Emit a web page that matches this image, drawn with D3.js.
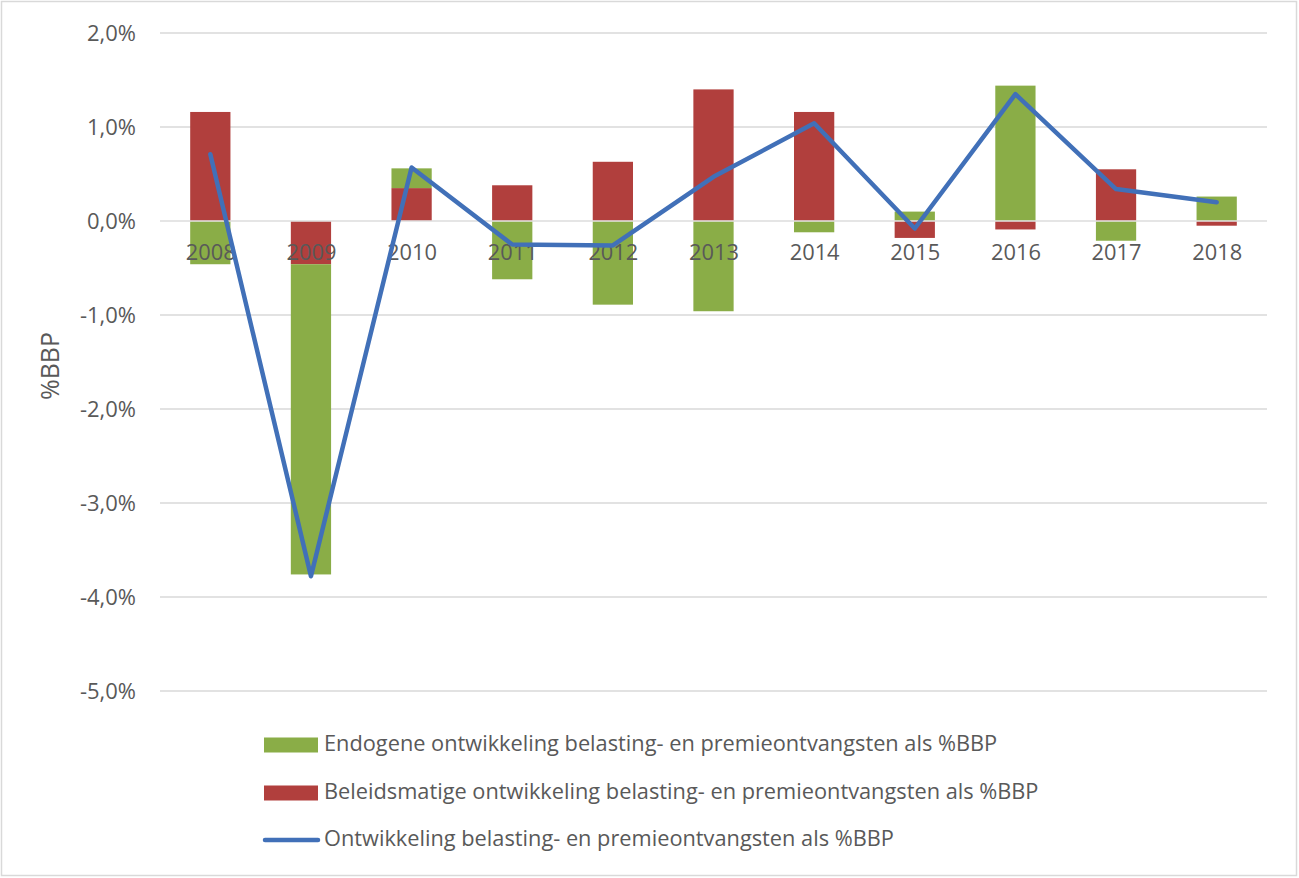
<!DOCTYPE html>
<html><head><meta charset="utf-8">
<script src="https://cdn.jsdelivr.net/npm/d3@7"></script>
<style>body{margin:0;background:#fff}svg{display:block}text{font-family:"Open Sans",Lato,sans-serif;fill:#595959}</style>
</head><body><svg id="c" width="1299" height="878"></svg>
<script>
const years = ["2008","2009","2010","2011","2012","2013","2014","2015","2016","2017","2018"];
const endogeen = [-0.46,-3.30,0.21,-0.62,-0.89,-0.96,-0.12,0.10,1.44,-0.21,0.26];
const beleid = [1.16,-0.46,0.35,0.38,0.63,1.40,1.16,-0.18,-0.09,0.55,-0.05];
const totaal = [0.71,-3.78,0.57,-0.25,-0.26,0.47,1.04,-0.08,1.35,0.34,0.20];
const yTicks = [2,1,0,-1,-2,-3,-4,-5];
const seriesNames = ["Endogene ontwikkeling belasting- en premieontvangsten als %BBP","Beleidsmatige ontwikkeling belasting- en premieontvangsten als %BBP","Ontwikkeling belasting- en premieontvangsten als %BBP"];
const GREEN="#8aad47", RED="#b13f3d", BLUE="#4170b8";
const FONT='"Open Sans",Lato,sans-serif';

const svg=d3.select("#c");
function fitSize(str,target){
  const t=svg.append("text").style("font-family",FONT).style("font-size","20px").text(str);
  const w=t.node().getComputedTextLength(); t.remove();
  return 20*target/w;
}
const legSize=fitSize(seriesNames[1],715);
const tickSize=fitSize("2,0%",49);
const catSize=fitSize("2008",50);
const titleSize=fitSize("%BBP",68);

svg.append("rect").attr("x",1.5).attr("y",1.5).attr("width",1295).attr("height",874).attr("fill","#fff").attr("stroke","#d9d9d9").attr("stroke-width",1.5);
const L=160,R=1267;
const x=d3.scaleBand().domain(years).range([L,R]).paddingInner(0.6).paddingOuter(0.3);
const xc=d3.scalePoint().domain(years).range([L,R]).padding(0.5);
const y=d3.scaleLinear().domain([-5,2]).range([691,33]);

// grid
svg.append("g").selectAll("line").data(yTicks).join("line")
 .attr("x1",L).attr("x2",R).attr("y1",d=>y(d)).attr("y2",d=>y(d)).attr("stroke","#d9d9d9").attr("stroke-width",1.3);
const fmt=d=>d3.format(".1f")(d).replace(".",",").replace("−","-")+"%";
const ya=d3.axisLeft(y).tickValues(yTicks).tickFormat(fmt).tickSize(0).tickPadding(24);
svg.append("g").attr("transform",`translate(${L},0)`).call(ya).call(g=>g.select(".domain").remove())
 .selectAll("text").style("font-size",tickSize+"px").style("font-family",FONT).attr("fill","#595959");

// stacked bars (beleid first, then endogeen)
years.forEach((yr,i)=>{
  const vals=[{v:beleid[i],c:RED},{v:endogeen[i],c:GREEN}];
  let pos=0,neg=0;
  vals.forEach(o=>{
    let y0,y1;
    if(o.v>=0){y0=pos;y1=pos+o.v;pos=y1;}else{y0=neg;y1=neg+o.v;neg=y1;}
    svg.append("rect").attr("x",x(yr)).attr("width",x.bandwidth())
      .attr("y",y(Math.max(y0,y1))).attr("height",Math.abs(y(y0)-y(y1))).attr("fill",o.c);
  });
});
// zero line
svg.append("line").attr("x1",L).attr("x2",R).attr("y1",y(0)).attr("y2",y(0)).attr("stroke","#e6e6e6").attr("stroke-width",1.3);
// category labels
const xa=d3.axisBottom(xc).tickSize(0).tickPadding(0);
svg.append("g").attr("transform",`translate(0,${y(0)})`).call(xa).call(g=>g.select(".domain").remove())
 .selectAll("text").attr("y",33).attr("dy","0").attr("dominant-baseline","middle").style("font-size",catSize+"px").style("font-family",FONT).attr("fill","#595959");
// line
svg.append("path").datum(totaal).attr("fill","none").attr("stroke",BLUE).attr("stroke-width",4.5).attr("stroke-linejoin","round").attr("stroke-linecap","round")
 .attr("d",d3.line().x((d,i)=>xc(years[i])).y(d=>y(d)));
// y title
svg.append("text").attr("transform","translate(52,366) rotate(-90)").attr("text-anchor","middle").attr("dominant-baseline","middle").style("font-size",titleSize+"px").text("%BBP");
// legend
const lg=svg.append("g");
const rows=[745,793,840];
[GREEN,RED].forEach((c,i)=>lg.append("rect").attr("x",264).attr("y",rows[i]-7.5).attr("width",54).attr("height",15).attr("fill",c));
lg.append("line").attr("x1",265).attr("x2",318).attr("y1",rows[2]).attr("y2",rows[2]).attr("stroke",BLUE).attr("stroke-width",4.5).attr("stroke-linecap","round");
seriesNames.forEach((s,i)=>lg.append("text").attr("x",324).attr("y",rows[i]).attr("dominant-baseline","middle").style("font-size",legSize+"px").text(s));
</script></body></html>
